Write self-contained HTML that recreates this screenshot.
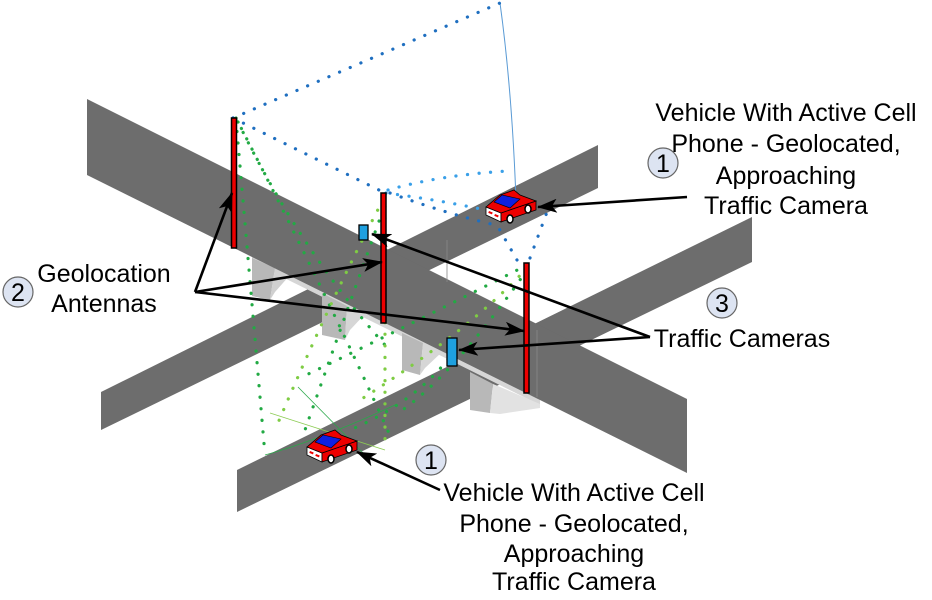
<!DOCTYPE html>
<html><head><meta charset="utf-8"><style>
html,body{margin:0;padding:0;background:#fff}
svg{display:block}
text{font-family:"Liberation Sans",sans-serif;fill:#000}
</style></head><body>
<svg width="932" height="600" viewBox="0 0 932 600" xmlns="http://www.w3.org/2000/svg">
<defs>
<marker id="a2" viewBox="0 0 20 14" markerWidth="20" markerHeight="14" refX="19" refY="7" orient="auto" markerUnits="userSpaceOnUse">
<path d="M0,0 L20,7 L0,14 L5,7 Z" fill="#000"/>
</marker>
<g id="car">
<polygon points="0,0 15,6 15,15 0,8" fill="#fff" stroke="#000" stroke-width="0.8"/>
<rect x="3" y="4" width="4" height="2" fill="#e00" transform="rotate(22 3 4)"/>
<rect x="9" y="7" width="4" height="2" fill="#e00" transform="rotate(22 9 7)"/>
<polygon points="15,6 50,-6 50,3 15,15" fill="#e00" stroke="#000" stroke-width="0.8"/>
<polygon points="0,0 15,6 50,-6 34,-12 28,-17 14,-12" fill="#e00" stroke="#000" stroke-width="0.8"/>
<polygon points="8,-5 16,-12 34,-8 24,1" fill="#1020e0" stroke="#000" stroke-width="0.6"/>
<ellipse cx="24" cy="12" rx="3" ry="4" fill="#fff" stroke="#000" stroke-width="1.5"/>
<ellipse cx="42" cy="2" rx="3" ry="4" fill="#fff" stroke="#000" stroke-width="1.5"/>
</g>
</defs>

<!-- Road A -->
<polygon points="101,392 598,145 598,188 101,430" fill="#6d6d6d"/>
<!-- Road B -->
<polygon points="237,470 752,217 752,262 237,512" fill="#6d6d6d"/>
<!-- piers / underside -->
<polygon points="252,255 540,398 540,405 252,262" fill="#d6d6d6"/>
<polygon points="252,258 275,268 270,300 252,296" fill="#b8b8b8"/>
<polygon points="275,268 290,275 275,292 270,300" fill="#d0d0d0"/>
<polygon points="322,293 347,306 345,340 322,335" fill="#b8b8b8"/>
<polygon points="347,306 365,314 350,330 345,340" fill="#d6d6d6"/>
<polygon points="402,333 423,343 420,375 402,370" fill="#b8b8b8"/>
<polygon points="423,343 442,352 425,368 420,375" fill="#d6d6d6"/>
<polygon points="470,372 493,384 490,413 470,410" fill="#b8b8b8"/>
<polygon points="493,384 540,404 540,408 500,414 490,413" fill="#e2e2e2"/>
<!-- Overpass -->
<polygon points="87,99 687,399 687,473 87,175" fill="#6d6d6d"/>
<line x1="537" y1="330" x2="537" y2="397" stroke="#888" stroke-width="0.8"/>
<line x1="447" y1="240" x2="447" y2="282" stroke="#888" stroke-width="0.8"/>

<!-- blue lines -->
<path d="M500,3 Q512,90 516,200" fill="none" stroke="#5b9bd5" stroke-width="1"/>
<g fill="none" stroke-linecap="round" stroke-width="3.2" stroke-dasharray="0.1 11.5">
<line x1="233" y1="118" x2="500" y2="3" stroke="#1f6fc0"/>
<line x1="233" y1="118" x2="383" y2="192" stroke="#1f6fc0"/>
<path d="M388,190 Q440,175 508,171" stroke="#3aa0e8"/>
<path d="M390,193 Q450,215 500,226" stroke="#1f6fc0"/>
<path d="M386,193 Q440,200 495,212" stroke="#3aa0e8"/>
<line x1="517" y1="260" x2="497" y2="225" stroke="#1f6fc0"/>
<line x1="530" y1="258" x2="547" y2="212" stroke="#1f6fc0"/>
</g>
<!-- green lines -->
<g fill="none" stroke-linecap="round" stroke-width="3.2" stroke-dasharray="0.1 11.5">
<path d="M236,120 Q250,280 265,455" stroke="#22aa44"/>
<path d="M238,122 Q300,250 385,345" stroke="#22aa44"/>
<path d="M236,118 Q330,300 392,440" stroke="#22aa44"/>
<path d="M385,195 L385,445" stroke="#7fcc44"/>
<path d="M383,200 Q330,300 275,430" stroke="#7fcc44"/>
<path d="M383,210 Q340,330 305,430" stroke="#22aa44"/>
<path d="M527,265 Q420,320 300,378" stroke="#22aa44"/>
<path d="M527,268 Q470,330 360,400" stroke="#7fcc44"/>
<path d="M527,270 Q450,380 395,415" stroke="#22aa44"/>
<path d="M455,350 Q420,400 350,430" stroke="#22aa44"/>
</g>
<g fill="none" stroke-width="0.8">
<line x1="298" y1="387" x2="365" y2="455" stroke="#2aa84a"/>
<line x1="270" y1="413" x2="385" y2="450" stroke="#8dcc55"/>
<path d="M265,455 Q320,440 395,405" stroke="#2aa84a"/>
</g>

<!-- antennas -->
<rect x="231.5" y="118" width="5" height="130" fill="#e00" stroke="#000" stroke-width="1.5"/>
<rect x="381" y="193" width="5" height="130" fill="#e00" stroke="#000" stroke-width="1.5"/>
<rect x="524" y="263" width="5" height="130" fill="#e00" stroke="#000" stroke-width="1.5"/>
<!-- cameras -->
<rect x="359" y="225" width="9" height="15" fill="#1ea0e0" stroke="#000" stroke-width="1.3"/>
<rect x="447" y="338" width="10" height="28" fill="#1ea0e0" stroke="#000" stroke-width="1.3"/>

<!-- cars -->
<use href="#car" x="486" y="207"/>
<use href="#car" x="307" y="447"/>

<!-- arrows -->
<g stroke="#000" stroke-width="2.6" fill="none">
<line x1="195" y1="292" x2="232" y2="193" marker-end="url(#a2)"/>
<line x1="195" y1="292" x2="382" y2="262" marker-end="url(#a2)"/>
<line x1="195" y1="292" x2="524" y2="331" marker-end="url(#a2)"/>
<line x1="650" y1="337" x2="372" y2="234" marker-end="url(#a2)"/>
<line x1="650" y1="337" x2="459" y2="350" marker-end="url(#a2)"/>
<line x1="687" y1="197" x2="538" y2="207" marker-end="url(#a2)"/>
<line x1="440" y1="490" x2="357" y2="452" marker-end="url(#a2)"/>
</g>

<!-- circles -->
<g fill="#dde4f2" stroke="#666" stroke-width="1.2">
<circle cx="663" cy="163" r="15"/>
<circle cx="431" cy="460" r="15"/>
<circle cx="18" cy="292" r="15"/>
<circle cx="722" cy="303" r="15"/>
</g>
<g font-size="25" text-anchor="middle">
<text x="663" y="172">1</text>
<text x="431" y="469">1</text>
<text x="18" y="301">2</text>
<text x="722" y="312">3</text>
</g>

<g font-size="25" text-anchor="middle">
<text x="786" y="121">Vehicle With Active Cell</text>
<text x="786" y="152">Phone - Geolocated,</text>
<text x="786" y="184">Approaching</text>
<text x="786" y="214">Traffic Camera</text>
<text x="574" y="501">Vehicle With Active Cell</text>
<text x="574" y="532">Phone - Geolocated,</text>
<text x="574" y="562">Approaching</text>
<text x="574" y="590">Traffic Camera</text>
<text x="104" y="282">Geolocation</text>
<text x="104" y="312">Antennas</text>
<text x="742" y="347">Traffic Cameras</text>
</g>
</svg>
</body></html>
